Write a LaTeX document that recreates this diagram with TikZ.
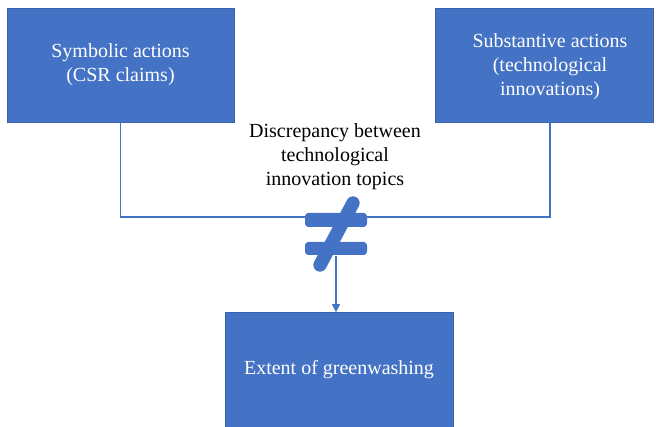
\documentclass[tikz,border=0pt]{standalone}
\usepackage{fontspec}
\setmainfont{LiberationSerif}[Extension=.ttf, UprightFont=*-Regular, BoldFont=*-Bold, ItalicFont=*-Italic, BoldItalicFont=*-BoldItalic]
\usetikzlibrary{arrows.meta}
\definecolor{ofblue}{HTML}{4472C4}
\definecolor{ofedge}{HTML}{3A62AE}
\begin{document}
\begin{tikzpicture}[x=0.75pt,y=-0.75pt,
  box/.style={draw=ofedge, line width=0.6pt, fill=ofblue, inner sep=0pt},
  boxtext/.style={text=white, align=center, inner sep=0pt, font=\fontsize{15}{18}\selectfont},
  plain/.style={text=black, align=center, inner sep=0pt, font=\fontsize{15}{18}\selectfont},
  link/.style={draw=ofblue, line width=0.9pt},
  neqpart/.style={fill=ofblue, rounded corners=2.5pt}]
\useasboundingbox (0,0) rectangle (656,427);
\clip (0,0) rectangle (656,427);
% boxes
\node[box, minimum width=170.25pt, minimum height=85.5pt] (L) at (120.5,65) {};
\node[boxtext] (Lt) at (L.center) {Symbolic actions\\(CSR claims)};
\node[box, minimum width=163.5pt, minimum height=85.5pt] (R) at (544,65) {};
\node[boxtext] (Rt) at ([xshift=4.5pt,yshift=-1pt]R.center) {Substantive actions\\(technological\\innovations)};
\node[box, minimum width=171pt, minimum height=88.5pt] (E) at (339,371.5) {};
\node[boxtext] (Et) at (339,370) {Extent of greenwashing};
% label
\node[plain] (D) at (335,157) {Discrepancy between\\technological\\innovation topics};
% connectors
\coordinate (j) at (336,217);
\draw[link] (L.south) |- (j) -| ([xshift=4.5pt]R.south);
% not-equal symbol
\coordinate (neq) at (336,234);
\begin{scope}[shift={(neq)}]
  \fill[neqpart] (-31,-21) rectangle (31,-7);
  \fill[neqpart] (-31,8) rectangle (31,21);
  \draw[ofblue, line width=10pt, line cap=round] (17,-31) -- (-16,31);
\end{scope}
\coordinate (nb) at (336,256);
\draw[link, -{Triangle[width=6pt,length=6pt]}] (nb) -- (nb |- E.north);
\end{tikzpicture}
\end{document}
